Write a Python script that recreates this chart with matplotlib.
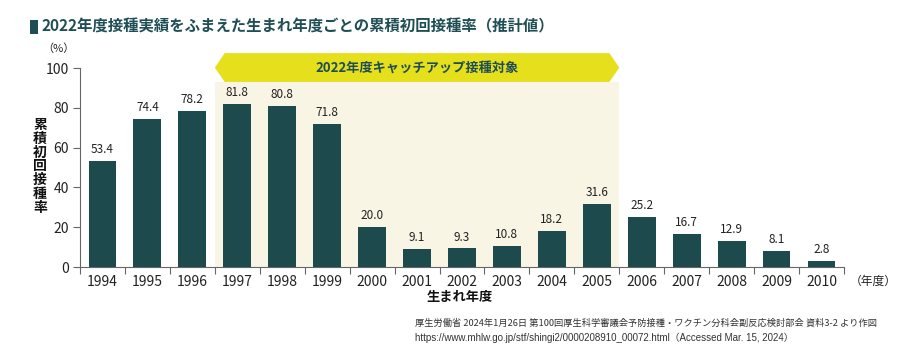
import matplotlib
matplotlib.use('agg')
import matplotlib.pyplot as plt
from matplotlib.patches import Polygon, Rectangle

plt.rcParams['font.family'] = ['Noto Sans CJK JP', 'DejaVu Sans']

years = ['1994', '1995', '1996', '1997', '1998', '1999', '2000', '2001', '2002',
         '2003', '2004', '2005', '2006', '2007', '2008', '2009', '2010']
rates = [53.4, 74.4, 78.2, 81.8, 80.8, 71.8, 20.0, 9.1, 9.3,
         10.8, 18.2, 31.6, 25.2, 16.7, 12.9, 8.1, 2.8]
catchup_first = '1997'
catchup_last = '2005'

bar_color = '#1d4a4d'
teal = '#1f4f55'

fig = plt.figure(figsize=(9.04, 3.57), dpi=100)
ax = fig.add_axes([0.0885, 0.2521, 0.8451, 0.5574])

x = list(range(len(years)))
i0 = years.index(catchup_first) - 0.5
i1 = years.index(catchup_last) + 0.5

# catch-up highlight
ax.add_patch(Rectangle((i0, 0), i1 - i0, 93, facecolor='#f8f5e4',
                       edgecolor='none', zorder=0))
banner = Polygon([(i0, 100.2), (i0 + 0.22, 107.5), (i1 - 0.22, 107.5),
                  (i1, 100.2), (i1 - 0.22, 93), (i0 + 0.22, 93)],
                 closed=True, facecolor='#e5df1c', edgecolor='none',
                 clip_on=False, zorder=1)
ax.add_patch(banner)
ax.text((i0 + i1) / 2, 100.2, '2022年度キャッチアップ接種対象', ha='center',
        va='center', fontsize=9.5, fontweight='bold', color=teal, zorder=2)

ax.bar(x, rates, width=0.62, color=bar_color, zorder=3)
for xi, v in zip(x, rates):
    ax.text(xi, v + 2.5, f'{v:.1f}', ha='center', va='bottom', fontsize=8.5,
            color='#222222', zorder=4)

ax.set_xlim(-0.5, len(years) - 0.5)
ax.set_ylim(0, 100)
ax.set_yticks([0, 20, 40, 60, 80, 100])
ax.set_xticks(x)
ax.set_xticklabels(years)
ax.set_xticks([i - 0.5 for i in range(len(years) + 1)], minor=True)
ax.tick_params(axis='x', which='major', length=0, pad=6, labelsize=10,
               labelcolor='#222222')
ax.tick_params(axis='x', which='minor', length=5, width=0.8, color='#666666')
ax.tick_params(axis='y', length=5, width=0.8, color='#666666', labelsize=10,
               labelcolor='#222222', pad=3)
for s in ['top', 'right']:
    ax.spines[s].set_visible(False)
for s in ['left', 'bottom']:
    ax.spines[s].set_color('#666666')
    ax.spines[s].set_linewidth(0.8)

# labels
fig.text(0.0442, 0.534, '\n'.join('累積初回接種率'), ha='center', va='center',
         fontsize=10, fontweight='bold', color='#111111', linespacing=0.98)
fig.text(0.065, 0.865, '（%）', ha='center', va='center', fontsize=8,
         color='#222222')
fig.text(0.509, 0.168, '生まれ年度', ha='center', va='center', fontsize=9.5,
         fontweight='bold', color='#111111')
fig.text(0.9395, 0.213, '（年度）', ha='left', va='center', fontsize=8.5,
         color='#222222')

# title
fig.patches.append(Rectangle((0.033, 0.905), 0.0095, 0.04, transform=fig.transFigure,
                             facecolor=teal, edgecolor='none'))
fig.text(0.046, 0.925, '2022年度接種実績をふまえた生まれ年度ごとの累積初回接種率（推計値）',
         ha='left', va='center', fontsize=11.1, fontweight='bold', color=teal)

# source
fig.text(0.459, 0.095, '厚生労働省 2024年1月26日 第100回厚生科学審議会予防接種・ワクチン分科会副反応検討部会 資料3-2 より作図',
         ha='left', va='center', fontsize=6.65, color='#333333')
fig.text(0.459, 0.053, 'https://www.mhlw.go.jp/stf/shingi2/0000208910_00072.html（Accessed Mar. 15, 2024）',
         ha='left', va='center', fontsize=7, color='#333333',
         family=['Liberation Sans', 'Noto Sans CJK JP'])

fig.savefig('out.png', dpi=100)
plt.close()
